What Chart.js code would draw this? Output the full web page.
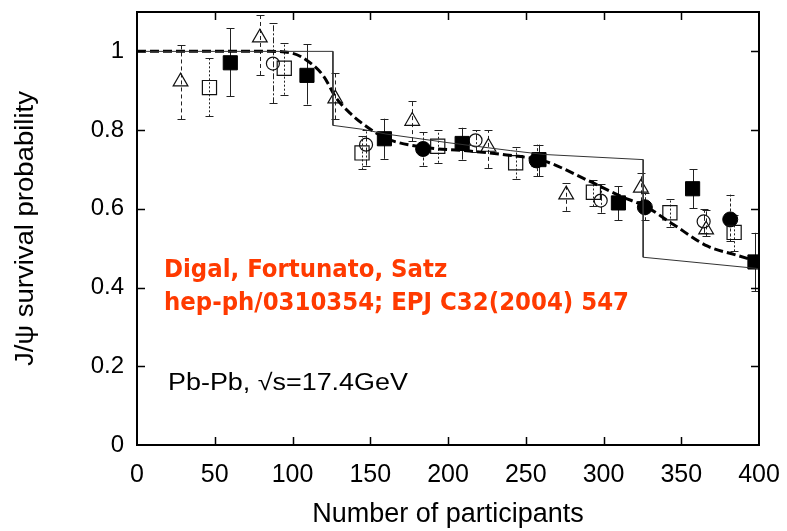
<!DOCTYPE html>
<html>
<head>
<meta charset="utf-8">
<script src="https://cdn.jsdelivr.net/npm/chart.js@4/dist/chart.umd.min.js"></script>
<style>
  html, body { margin: 0; padding: 0; background: #fff; }
  #wrap { width: 787px; height: 531px; }
</style>
</head>
<body>
<div id="wrap"><canvas id="c" width="787" height="531"></canvas></div>
<script>
// Axis ticks
const xTicks = [0, 50, 100, 150, 200, 250, 300, 350, 400];
const yTicks = [0, 0.2, 0.4, 0.6, 0.8, 1];

// Open triangles
const triX  = [28, 79, 127.5, 177, 226, 276, 324, 366];
const triY  = [0.923, 1.035, 0.880, 0.823, 0.757, 0.636, 0.653, 0.547];
const triLo = [0.827, 0.940, 0.827, 0.772, 0.704, 0.595, 0.619, 0.530];
const triHi = [1.016, 1.092, 0.945, 0.873, 0.800, 0.666, 0.690, 0.598];

// Open squares
const sqoX  = [46.6, 94.7, 144.7, 193.4, 243.5, 293.5, 342.7, 384];
const sqoY  = [0.908, 0.957, 0.742, 0.759, 0.717, 0.642, 0.590, 0.540];
const sqoLo = [0.835, 0.890, 0.700, 0.717, 0.677, 0.606, 0.555, 0.492];
const sqoHi = [0.982, 1.022, 0.785, 0.800, 0.756, 0.674, 0.625, 0.585];

// Filled squares
const sqfX  = [60, 109.3, 159.1, 209.1, 258.5, 309.6, 357.3, 397.4];
const sqfY  = [0.971, 0.939, 0.778, 0.766, 0.725, 0.615, 0.651, 0.465];
const sqfLo = [0.886, 0.865, 0.727, 0.725, 0.683, 0.571, 0.602, 0.390];
const sqfHi = [1.059, 1.018, 0.829, 0.806, 0.763, 0.657, 0.701, 0.539];

// Open circles
const cirX  = [87.4, 147.3, 217.7, 298.2, 364.4];
const cirY  = [0.969, 0.763, 0.774, 0.621, 0.568];
const cirLo = [0.868, 0.710, 0.744, 0.590, 0.539];
const cirHi = [1.071, 0.800, 0.800, 0.662, 0.600];

// Filled circles
const cifX  = [184, 257, 326.6, 381.5];
const cifY  = [0.752, 0.723, 0.604, 0.573];
const cifLo = [0.710, 0.683, 0.571, 0.517];
const cifHi = [0.795, 0.763, 0.640, 0.636];

// Step-like model curve (thin solid)
const stepX = [0, 126, 126, 145, 160, 200, 240, 262, 325.5, 325.5, 400];
const stepY = [1, 1, 0.812, 0.802, 0.790, 0.768, 0.748, 0.738, 0.725, 0.477, 0.448];

// Smooth model curve (thick dashed)
const curveX = [0, 85, 100, 110, 120, 128, 137, 148, 160, 185, 210, 235, 262, 290, 311, 327, 345, 367, 385, 400];
const curveY = [1, 1, 0.995, 0.975, 0.937, 0.882, 0.843, 0.808, 0.779, 0.756, 0.748, 0.738, 0.721, 0.672, 0.632, 0.606, 0.560, 0.505, 0.483, 0.465];

const yTitle = 'J/\u03C8 survival probability';
const xTitle = 'Number of participants';
const authors = 'Digal, Fortunato, Satz';
const reference = 'hep-ph/0310354; EPJ C32(2004) 547';
const system = 'Pb-Pb, \u221As=17.4GeV';

const pts = (xs, ys) => xs.map((x, i) => ({ x: x, y: ys[i] }));

// Error bar sets with their dash patterns
const errorSets = [
  { xs: triX, lo: triLo, hi: triHi, dash: [4, 3] },
  { xs: sqoX, lo: sqoLo, hi: sqoHi, dash: [2, 2] },
  { xs: sqfX, lo: sqfLo, hi: sqfHi, dash: [] },
  { xs: cirX, lo: cirLo, hi: cirHi, dash: [6, 2, 2, 2] },
  { xs: cifX, lo: cifLo, hi: cifHi, dash: [3, 2] }
];

// Draws text horizontally stretched or squeezed by sx
function stretchedText(ctx, text, x, y, sx) {
  ctx.save();
  ctx.translate(x, y);
  ctx.scale(sx, 1);
  ctx.fillText(text, 0, 0);
  ctx.restore();
}

const frameAndErrors = {
  id: 'frameAndErrors',
  beforeDatasetsDraw(chart) {
    const ctx = chart.ctx, xs = chart.scales.x, ys = chart.scales.y;
    ctx.save();
    ctx.strokeStyle = '#222';
    ctx.lineWidth = 1;
    errorSets.forEach(set => {
      ctx.setLineDash(set.dash);
      set.xs.forEach((xv, i) => {
        const px = Math.round(xs.getPixelForValue(xv)) + 0.5;
        ctx.beginPath();
        ctx.moveTo(px, ys.getPixelForValue(set.lo[i]));
        ctx.lineTo(px, ys.getPixelForValue(set.hi[i]));
        ctx.stroke();
      });
      ctx.setLineDash([]);
      set.xs.forEach((xv, i) => {
        const px = Math.round(xs.getPixelForValue(xv)) + 0.5;
        [set.lo[i], set.hi[i]].forEach(v => {
          const py = Math.round(ys.getPixelForValue(v)) + 0.5;
          ctx.beginPath();
          ctx.moveTo(px - 4, py);
          ctx.lineTo(px + 4, py);
          ctx.stroke();
        });
      });
    });
    ctx.restore();
  },
  afterDraw(chart) {
    const ctx = chart.ctx, a = chart.chartArea, xs = chart.scales.x, ys = chart.scales.y;
    ctx.save();
    ctx.strokeStyle = '#000';
    ctx.lineWidth = 2;
    ctx.strokeRect(a.left, a.top, a.right - a.left, a.bottom - a.top);
    ctx.lineWidth = 1.5;
    const t = 8;
    xTicks.slice(1, -1).forEach(v => {
      const px = Math.round(xs.getPixelForValue(v)) + 0.5;
      ctx.beginPath();
      ctx.moveTo(px, a.bottom); ctx.lineTo(px, a.bottom - t);
      ctx.moveTo(px, a.top); ctx.lineTo(px, a.top + t);
      ctx.stroke();
    });
    yTicks.slice(1).forEach(v => {
      const py = Math.round(ys.getPixelForValue(v)) + 0.5;
      ctx.beginPath();
      ctx.moveTo(a.left, py); ctx.lineTo(a.left + t, py);
      ctx.moveTo(a.right, py); ctx.lineTo(a.right - t, py);
      ctx.stroke();
    });

    // Vertical axis title
    ctx.fillStyle = '#000';
    ctx.font = '25px "Liberation Sans"';
    ctx.textAlign = 'center';
    ctx.textBaseline = 'middle';
    ctx.save();
    ctx.translate(26, (a.top + a.bottom) / 2);
    ctx.rotate(-Math.PI / 2);
    ctx.scale(1.1, 1);
    ctx.fillText(yTitle, 0, 0);
    ctx.restore();

    // Annotations
    ctx.textAlign = 'left';
    ctx.fillStyle = 'rgb(255,58,0)';
    ctx.font = 'bold 25px "DejaVu Sans"';
    stretchedText(ctx, authors, 164, 270, 0.915);
    stretchedText(ctx, reference, 164, 303, 0.915);
    ctx.fillStyle = '#000';
    ctx.font = '23px "Liberation Sans"';
    stretchedText(ctx, system, 168, 384, 1.17);
    ctx.restore();
  }
};

const lineCol = '#111';
new Chart(document.getElementById('c'), {
  type: 'scatter',
  data: {
    datasets: [
      { type: 'line', data: pts(stepX, stepY), borderColor: '#333', borderWidth: 1, pointRadius: 0, tension: 0, fill: false },
      { type: 'line', data: pts(curveX, curveY), borderColor: '#000', borderWidth: 3, borderDash: [9, 4], pointRadius: 0, cubicInterpolationMode: 'monotone', fill: false },
      { data: pts(triX, triY), pointStyle: 'triangle', pointRadius: 8.5, backgroundColor: 'rgba(0,0,0,0)', borderColor: lineCol, borderWidth: 1.2 },
      { data: pts(sqoX, sqoY), pointStyle: 'rect', pointRadius: 10, backgroundColor: 'rgba(0,0,0,0)', borderColor: lineCol, borderWidth: 1.2 },
      { data: pts(sqfX, sqfY), pointStyle: 'rect', pointRadius: 10, backgroundColor: '#000', borderColor: '#000', borderWidth: 1 },
      { data: pts(cirX, cirY), pointStyle: 'circle', pointRadius: 6.5, backgroundColor: 'rgba(0,0,0,0)', borderColor: lineCol, borderWidth: 1.2 },
      { data: pts(cifX, cifY), pointStyle: 'circle', pointRadius: 7.5, backgroundColor: '#000', borderColor: '#000', borderWidth: 1 }
    ]
  },
  options: {
    responsive: false,
    animation: false,
    devicePixelRatio: 1,
    layout: { padding: { left: 0, top: 12, right: 28, bottom: 0 } },
    plugins: { legend: { display: false }, tooltip: { enabled: false } },
    scales: {
      x: {
        type: 'linear', min: 0, max: 400,
        afterBuildTicks: s => { s.ticks = xTicks.map(v => ({ value: v })); },
        afterFit: s => { s.height = 86; s.paddingLeft = 0; s.paddingRight = 0; },
        grid: { display: false, drawTicks: false },
        border: { display: false },
        ticks: { color: '#000', font: { family: 'Liberation Sans', size: 25 }, padding: 15, maxRotation: 0 },
        title: { display: true, text: xTitle, color: '#000', font: { family: 'Liberation Sans', size: 27 }, padding: { top: 0, bottom: 0 } }
      },
      y: {
        type: 'linear', min: 0, max: 1.1,
        afterBuildTicks: s => { s.ticks = yTicks.map(v => ({ value: v })); },
        afterFit: s => { s.width = 137; s.paddingTop = 0; s.paddingBottom = 0; },
        grid: { display: false, drawTicks: false },
        border: { display: false },
        ticks: { color: '#000', font: { family: 'Liberation Sans', size: 24 }, padding: 13, callback: v => String(+v.toFixed(1)) }
      }
    }
  },
  plugins: [frameAndErrors]
});
</script>
</body>
</html>
